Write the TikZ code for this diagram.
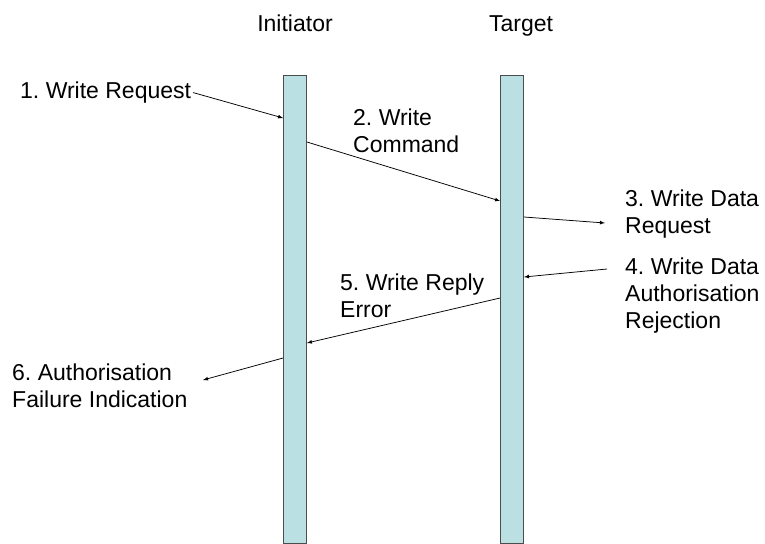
\documentclass[tikz,border=0pt]{standalone}
\usepackage{fontspec}
\setmainfont{Liberation Sans}
\usetikzlibrary{positioning,arrows}
\definecolor{lanecyan}{RGB}{187,224,227}
\frenchspacing

\begin{document}
\begin{tikzpicture}[x=1pt,y=-1pt]
    \tikzstyle{every node}=[inner sep=0,font=\fontsize{23}{27}\selectfont]
    \tikzstyle{lane}=[draw=black!70,fill=lanecyan,line width=0.8,minimum width=23,minimum height=468]
    \tikzstyle{note}=[align=left,anchor=base west]
    \tikzstyle{msg}=[-latex,line width=0.75]
    \useasboundingbox (0,0) rectangle (765,543);

    % the two life lines
    \node[lane] (init) at (295,309) {};
    \node[lane] (targ) at (512,309) {};
    \node[anchor=base] (initname) at (295,32) {Initiator};
    \node[anchor=base] (targname) at (521,32) {Target};

    % labels (base = last line)
    \node[note] (req) at (20,98) {1. Write Request};
    \node[note] (cmd) at (353,152) {2. Write\\Command};
    \node[note] (dreq) at (625,233) {3. Write Data\\Request};
    \node[note] (drej) at (625,328) {4. Write Data\\Authorisation\\Rejection};
    \node[note] (rerr) at (340,317) {5. Write Reply\\Error};
    \node[note] (fail) at (12,407) {6. Authorisation\\Failure Indication};

    \coordinate (dreqend) at (605,223);
    \coordinate (drejstart) at (607,269);
    \coordinate (failend) at (203,380);

    % messages
    \draw[msg,shorten <=2] (req.east) -- (init.west |- 0,118);
    \draw[msg] (init.east |- 0,142) -- (targ.west |- 0,201);
    \draw[msg] (targ.east |- 0,217) -- (dreqend);
    \draw[msg] (drejstart) -- (targ.east |- 0,277);
    \draw[msg] (targ.west |- 0,298) -- (init.east |- 0,343);
    \draw[msg] (init.west |- 0,358) -- (failend);
\end{tikzpicture}
\end{document}
